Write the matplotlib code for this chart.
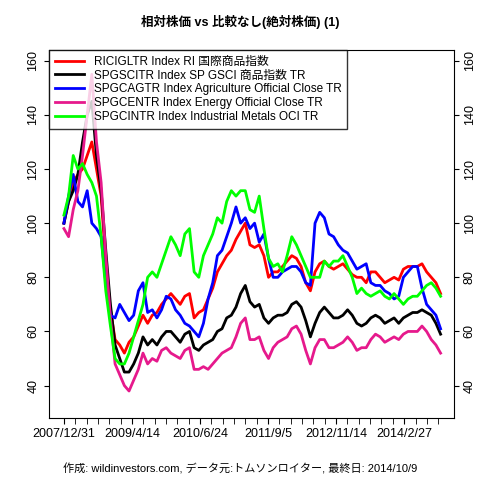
import matplotlib
matplotlib.use("Agg")
import matplotlib.pyplot as plt
import numpy as np

plt.rcParams['font.family'] = ['Liberation Sans', 'Noto Sans CJK JP', 'DejaVu Sans']

# monthly values, Jan 2008 .. Oct 2014
rici = [100, 108, 115, 118, 120, 125, 130, 120, 110, 85, 68, 57, 55, 52, 56, 58, 62, 66, 63, 66, 67, 70, 72, 74,
        72, 70, 73, 74, 65, 67, 68, 72, 76, 82, 85, 88, 90, 94, 97, 100, 92, 91, 92, 88, 80, 82, 82, 84,
        86, 88, 87, 84, 78, 75, 82, 85, 86, 84, 83, 84, 85, 83, 81, 80, 80, 78, 82, 82, 80, 78, 79, 80,
        79, 83, 84, 84, 84, 85, 82, 80, 78, 74]
gsci = [100, 108, 112, 118, 130, 140, 145, 125, 112, 90, 70, 55, 50, 45, 45, 48, 52, 58, 55, 57, 55, 58, 60, 60,
        58, 56, 59, 60, 54, 53, 55, 56, 57, 60, 61, 65, 66, 69, 74, 77, 71, 69, 70, 65, 63, 65, 66, 66,
        67, 70, 71, 69, 64, 58, 63, 67, 69, 67, 65, 65, 66, 68, 66, 63, 62, 63, 65, 66, 65, 63, 64, 65,
        63, 65, 66, 67, 67, 68, 67, 66, 63, 59]
agri = [100, 110, 118, 108, 106, 112, 100, 98, 95, 78, 66, 65, 70, 67, 64, 66, 75, 78, 67, 68, 65, 68, 73, 72,
        68, 66, 63, 62, 60, 58, 63, 72, 78, 88, 90, 95, 100, 106, 100, 102, 98, 100, 93, 96, 87, 80, 80, 82,
        83, 84, 84, 82, 78, 77, 100, 104, 102, 96, 95, 92, 90, 89, 86, 83, 84, 85, 78, 77, 77, 75, 74, 72,
        73, 80, 82, 84, 84, 76, 70, 68, 66, 61]
energy = [98, 95, 105, 112, 125, 140, 155, 130, 115, 88, 65, 48, 44, 40, 38, 42, 46, 52, 48, 50, 49, 53, 54, 52,
          51, 50, 53, 54, 46, 46, 47, 46, 48, 50, 52, 53, 54, 58, 63, 65, 57, 57, 58, 53, 50, 54, 56, 57,
          58, 61, 62, 59, 53, 48, 54, 57, 57, 54, 54, 55, 56, 58, 56, 53, 54, 54, 57, 59, 58, 56, 57, 58,
          57, 59, 60, 60, 60, 62, 60, 57, 55, 52]
metals = [103, 110, 125, 120, 122, 118, 115, 110, 95, 75, 62, 50, 48, 48, 52, 58, 64, 70, 80, 82, 80, 85, 90, 95,
          92, 88, 96, 98, 82, 80, 88, 92, 96, 102, 100, 108, 112, 110, 112, 112, 105, 104, 110, 98, 87, 84, 85, 82,
          88, 95, 92, 88, 84, 80, 80, 80, 86, 84, 86, 86, 88, 84, 80, 74, 76, 74, 73, 74, 75, 73, 72, 74,
          72, 70, 72, 73, 73, 75, 77, 78, 76, 73]

labels = ["RICIGLTR Index RI 国際商品指数", "SPGSCITR Index SP GSCI 商品指数 TR",
          "SPGCAGTR Index Agriculture Official Close TR", "SPGCENTR Index Energy Official Close TR",
          "SPGCINTR Index Industrial Metals OCI TR"]
colors = ["#ff0000", "#000000", "#0000ff", "#e6198c", "#00ff00"]
tick_labels = ["2007/12/31", "2009/4/14", "2010/6/24", "2011/9/5", "2012/11/14", "2014/2/27"]

fig = plt.figure(figsize=(4.8, 4.8), dpi=100)
ax = fig.add_axes([0.102, 0.129, 0.844, 0.767])

x = np.arange(len(rici)) * 20.5
for s, c, lab in zip([rici, gsci, agri, energy, metals], colors, labels):
    ax.plot(x, s, color=c, lw=2, label=lab)

ax.set_xlim(-66, 1720)
ax.set_ylim(28, 164)
ax.set_xticks(np.arange(0, 1700, 50), minor=True)
ax.set_xticks(np.arange(0, 1700, 300))
ax.set_xticklabels(tick_labels, fontsize=9)
ax.tick_params(axis='x', which='both', length=4)
ax.set_yticks([40, 60, 80, 100, 120, 140, 160])
ax.tick_params(axis='y', labelsize=9, labelrotation=90, right=True, labelright=True)
for t in ax.get_yticklabels():
    t.set_va('center')

leg = ax.legend(loc='upper left', fontsize=8.5, frameon=True, fancybox=False,
                borderaxespad=0, handlelength=2.5, labelspacing=0.15, borderpad=0.5)
leg.get_frame().set_edgecolor('black')
leg.get_frame().set_linewidth(1)

fig.text(0.5, 0.945, "相対株価 vs 比較なし(絶対株価) (1)", ha='center', fontsize=9, fontweight='bold')
fig.text(0.5, 0.015, "作成: wildinvestors.com, データ元:トムソンロイター, 最終日: 2014/10/9", ha='center', fontsize=8)

fig.savefig("out.png", dpi=100)
